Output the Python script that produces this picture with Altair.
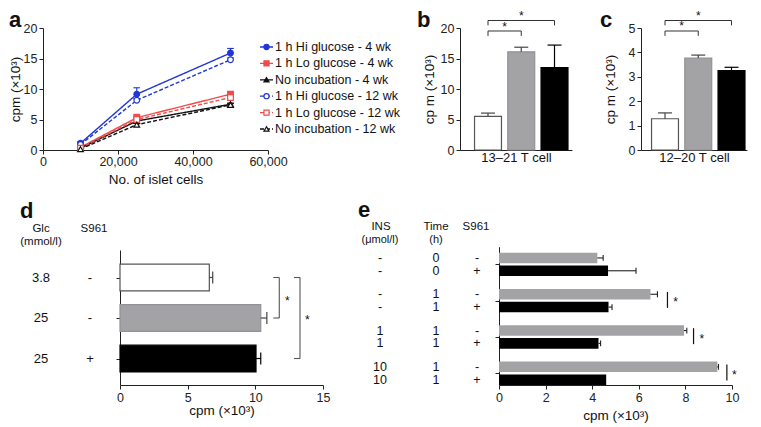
import altair as alt
import pandas as pd

FONT = "Liberation Sans"
W, H = 745, 415
INK = "#111111"

# ---------------- panel a: data ----------------
cells = [10000, 25000, 50000]
series = ["1 h Hi glucose - 4 wk", "1 h Lo glucose - 4 wk", "No incubation - 4 wk",
          "1 h Hi glucose - 12 wk", "1 h Lo glucose - 12 wk", "No incubation - 12 wk"]
hi_4wk = [1.1, 9.15, 15.9]
lo_4wk = [0.45, 5.3, 9.15]
no_4wk = [0.3, 4.75, 7.5]
hi_12wk = [0.9, 8.15, 14.8]
lo_12wk = [0.3, 5.0, 8.6]
no_12wk = [0.15, 4.15, 7.4]
hi_4wk_err = [0.25, 1.05, 0.75]
lo_4wk_err = [0.1, 0.55, 0.35]
no_4wk_err = [0.05, 0.2, 0.2]
hi_12wk_err = [0.1, 0.3, 0.3]
lo_12wk_err = [0.05, 0.3, 0.3]
no_12wk_err = [0.05, 0.2, 0.2]

a_values = [hi_4wk, lo_4wk, no_4wk, hi_12wk, lo_12wk, no_12wk]
a_errors = [hi_4wk_err, lo_4wk_err, no_4wk_err, hi_12wk_err, lo_12wk_err, no_12wk_err]

# ---------------- panels b, c, d: data ----------------
conditions = ["Glc 3.8", "Glc 25", "Glc 25 + S961"]
b_cpm = [5.5, 16.1, 13.5]
b_err = [0.55, 0.75, 3.7]
c_cpm = [1.28, 3.77, 3.25]
c_err = [0.24, 0.12, 0.14]
b_brk_from, b_brk_to = [1, 1], [2, 3]
b_brk_level = [19.51, 21.23]
b_star_y = [19.59, 21.31]
c_brk_level = [4.877, 5.307]
c_star_y = [4.898, 5.328]

d_glc = ["3.8", "25", "25"]
d_s961 = ["-", "-", "+"]
d_cpm = [6.6, 10.4, 10.05]
d_err = [0.25, 0.45, 0.35]
d_brk_from, d_brk_to = [1, 1], [2, 3]
d_brk_x = [11.77, 13.3]
d_star_x = [12.37, 13.84]
d_star_row = [1.67, 2.15]

# ---------------- panel e: data ----------------
e_ins = ["-", "-", "-", "-", "1", "1", "10", "10"]
e_time = ["0", "0", "1", "1", "1", "1", "1", "1"]
e_s961 = ["-", "+", "-", "+", "-", "+", "-", "+"]
e_cpm = [4.22, 4.68, 6.5, 4.7, 7.94, 4.27, 9.37, 4.6]
e_err = [0.25, 1.2, 0.3, 0.15, 0.12, 0.09, 0.05, 0.0]
e_sig_group = [2, 3, 4]
e_sig_x = [7.23, 8.35, 9.78]
e_star_x = [7.58, 8.71, 10.1]

# ---------------- styles ----------------
BLUE, RED, BLACK = "#2236d6", "#f04a4a", "#111111"
GRAY = "#a3a3a6"
ser_color = alt.Scale(domain=series, range=[BLUE, RED, BLACK, BLUE, RED, BLACK])
ser_fill = alt.Scale(domain=series, range=[BLUE, RED, BLACK, "#ffffff", "#ffffff", "#ffffff"])
ser_shape = alt.Scale(domain=series, range=["circle", "square", "triangle-up"] * 2)
ser_dash = alt.Scale(domain=series, range=[[1, 0]] * 3 + [[4, 2]] * 3)
cond_fill = alt.Scale(domain=conditions, range=["#ffffff", GRAY, "#000000"])
cond_stroke = alt.Scale(domain=conditions, range=["#555555", "#929296", "#000000"])
cond_err = alt.Scale(domain=conditions, range=["#444444", "#444444", "#000000"])


def note(txt, x, y, size=11.5, weight="normal", align="center", baseline="middle"):
    return alt.Chart(pd.DataFrame({"t": [txt]})).mark_text(
        font=FONT, fontSize=size, fontWeight=weight, align=align, baseline=baseline, color=INK
    ).encode(x=alt.value(x), y=alt.value(y), text="t:N")


# ---------------- panel a ----------------
df_a = pd.DataFrame([{"series": s, "cells": c, "cpm": v, "err": e}
                     for s, vals, errs in zip(series, a_values, a_errors)
                     for c, v, e in zip(cells, vals, errs)])
xa = alt.Scale(domain=[0, 60000], range=[35, 260], nice=False, zero=False)
ya = alt.Scale(domain=[0, 20], range=[142, 20], nice=False, zero=False)
xa_axis = alt.Axis(orient="bottom", offset=142 - H, values=[0, 20000, 40000, 60000],
                   labelExpr="format(datum.value, ',')",
                   title="No. of islet cells", titlePadding=5, labelPadding=1)
ya_axis = alt.Axis(orient="left", offset=-35, values=[0, 5, 10, 15, 20], title="cpm (×10³)",
                   titlePadding=1)
base_a = alt.Chart(df_a).transform_calculate(
    top="datum.cpm + datum.err", c0="datum.cells - 900", c1="datum.cells + 900")
a_lines = base_a.mark_line(strokeWidth=1.4).encode(
    x=alt.X("cells:Q", scale=xa, axis=xa_axis),
    y=alt.Y("cpm:Q", scale=ya, axis=ya_axis),
    color=alt.Color("series:N", scale=ser_color, legend=None),
    strokeDash=alt.StrokeDash("series:N", scale=ser_dash, legend=None))
a_err = base_a.mark_rule(strokeWidth=1.1).encode(
    x=alt.X("cells:Q", scale=xa, axis=xa_axis), y=alt.Y("cpm:Q", scale=ya, axis=ya_axis), y2="top:Q",
    color=alt.Color("series:N", scale=ser_color, legend=None))
a_cap = base_a.mark_rule(strokeWidth=1.1).encode(
    x=alt.X("c0:Q", scale=xa, axis=xa_axis), x2="c1:Q", y=alt.Y("top:Q", scale=ya, axis=ya_axis),
    color=alt.Color("series:N", scale=ser_color, legend=None))
a_pts = base_a.mark_point(size=32, strokeWidth=1.2, opacity=1).encode(
    x=alt.X("cells:Q", scale=xa, axis=xa_axis), y=alt.Y("cpm:Q", scale=ya, axis=ya_axis),
    shape=alt.Shape("series:N", scale=ser_shape, legend=None),
    fill=alt.Fill("series:N", scale=ser_fill, legend=None),
    stroke=alt.Stroke("series:N", scale=ser_color, legend=None))
panel_a = alt.layer(a_lines, a_err, a_cap, a_pts)

# legend for a
df_leg = pd.DataFrame({"series": series, "idx": list(range(len(series)))})
yleg = alt.Scale(domain=[0, 5], range=[39, 121], nice=False, zero=False)
leg_base = alt.Chart(df_leg)
leg_lines = leg_base.mark_rule(strokeWidth=1.3).encode(
    x=alt.value(252), x2=alt.value(265), y=alt.Y("idx:Q", scale=yleg, axis=None),
    color=alt.Color("series:N", scale=ser_color, legend=None),
    strokeDash=alt.StrokeDash("series:N", scale=ser_dash, legend=None))
leg_pts = leg_base.mark_point(size=26, strokeWidth=1.2, opacity=1).encode(
    x=alt.value(258.5), y=alt.Y("idx:Q", scale=yleg, axis=None),
    shape=alt.Shape("series:N", scale=ser_shape, legend=None),
    fill=alt.Fill("series:N", scale=ser_fill, legend=None),
    stroke=alt.Stroke("series:N", scale=ser_color, legend=None))
leg_txt = leg_base.mark_text(font=FONT, fontSize=12.5, align="left", baseline="middle", color=INK).encode(
    x=alt.value(267), y=alt.Y("idx:Q", scale=yleg, axis=None), text="series:N")
legend_a = alt.layer(leg_lines, leg_pts, leg_txt)


# ---------------- panels b and c ----------------
def column_panel(cpm, err, xs, ys, xaxis, yaxis, levels, drop, star_y):
    df = pd.DataFrame({"cond": conditions, "pos": list(range(1, len(conditions) + 1)),
                       "cpm": cpm, "err": err})
    base = alt.Chart(df).transform_calculate(
        x0="datum.pos - 0.405", x1="datum.pos + 0.405", zero="0",
        top="datum.cpm + datum.err", c0="datum.pos - 0.21", c1="datum.pos + 0.21")
    X = lambda f: alt.X(f, scale=xs, axis=xaxis)
    Y = lambda f: alt.Y(f, scale=ys, axis=yaxis)
    bars = base.mark_rect(strokeWidth=1.2).encode(
        x=X("x0:Q"), x2="x1:Q", y=Y("zero:Q"), y2="cpm:Q",
        fill=alt.Fill("cond:N", scale=cond_fill, legend=None),
        stroke=alt.Stroke("cond:N", scale=cond_stroke, legend=None))
    eb = base.mark_rule(strokeWidth=1.2).encode(
        x=X("pos:Q"), y=Y("cpm:Q"), y2="top:Q",
        color=alt.Color("cond:N", scale=cond_err, legend=None))
    cap = base.mark_rule(strokeWidth=1.2).encode(
        x=X("c0:Q"), x2="c1:Q", y=Y("top:Q"),
        color=alt.Color("cond:N", scale=cond_err, legend=None))
    brk = pd.DataFrame({"i0": b_brk_from, "i1": b_brk_to, "level": levels, "sy": star_y})
    bb = alt.Chart(brk).transform_calculate(
        low=f"datum.level - {drop}", mid="(datum.i0 + datum.i1) / 2")
    h = bb.mark_rule(strokeWidth=1, color="#333333").encode(x=X("i0:Q"), x2="i1:Q", y=Y("level:Q"))
    l1 = bb.mark_rule(strokeWidth=1, color="#333333").encode(x=X("i0:Q"), y=Y("level:Q"), y2="low:Q")
    l2 = bb.mark_rule(strokeWidth=1, color="#333333").encode(x=X("i1:Q"), y=Y("level:Q"), y2="low:Q")
    st = bb.mark_text(font=FONT, fontSize=12, align="center", baseline="alphabetic", color=INK).encode(
        x=X("mid:Q"), y=Y("sy:Q"), text=alt.value("*"))
    return alt.layer(bars, eb, cap, h, l1, l2, st)


xb = alt.Scale(domain=[0.158, 3.526], range=[452, 564], nice=False, zero=False)
yb = alt.Scale(domain=[0, 20], range=[142, 20], nice=False, zero=False)
xb_axis = alt.Axis(orient="bottom", offset=142 - H, labels=False, ticks=False, title="13–21 T cell",
                   titlePadding=1, titleFontSize=13)
yb_axis = alt.Axis(orient="left", offset=-452, values=[0, 5, 10, 15, 20], title="cp m (×10³)",
                   titlePadding=4)
panel_b = column_panel(b_cpm, b_err, xb, yb, xb_axis, yb_axis, b_brk_level, 0.8, b_star_y)

xc = alt.Scale(domain=[0.278, 3.466], range=[633, 739], nice=False, zero=False)
yc = alt.Scale(domain=[0, 5], range=[142, 20], nice=False, zero=False)
xc_axis = alt.Axis(orient="bottom", offset=142 - H, labels=False, ticks=False, title="12–20 T cell",
                   titlePadding=1, titleFontSize=13)
yc_axis = alt.Axis(orient="left", offset=-633, values=[0, 1, 2, 3, 4, 5], title="cp m (×10³)",
                   titlePadding=10.5)
panel_c = column_panel(c_cpm, c_err, xc, yc, xc_axis, yc_axis, c_brk_level, 0.2, c_star_y)

# ---------------- panel d ----------------
df_d = pd.DataFrame({"cond": conditions, "row": list(range(1, 4)), "glc": d_glc, "s961": d_s961,
                     "cpm": d_cpm, "err": d_err})
xd = alt.Scale(domain=[0, 15], range=[112, 315], nice=False, zero=False)
yd = alt.Scale(domain=[0.321, 3.654], range=[242, 377], nice=False, zero=False)
xd_axis = alt.Axis(orient="bottom", offset=377 - H, values=[0, 5, 10, 15], title="cpm (×10³)",
                   titlePadding=0)
yd_axis = alt.Axis(orient="left", offset=-112, values=[1, 2, 3], labels=False, title="")
XD = lambda f: alt.X(f, scale=xd, axis=xd_axis)
YD = lambda f: alt.Y(f, scale=yd, axis=yd_axis)
base_d = alt.Chart(df_d).transform_calculate(
    zero="0", y0="datum.row - 0.33", y1="datum.row + 0.33", right="datum.cpm + datum.err",
    r0="datum.row - 0.15", r1="datum.row + 0.15")
d_bars = base_d.mark_rect(strokeWidth=1.2).encode(
    x=XD("zero:Q"), x2="cpm:Q", y=YD("y0:Q"), y2="y1:Q",
    fill=alt.Fill("cond:N", scale=cond_fill, legend=None),
    stroke=alt.Stroke("cond:N", scale=cond_stroke, legend=None))
d_eb = base_d.mark_rule(strokeWidth=1.2).encode(
    x=XD("cpm:Q"), x2="right:Q", y=YD("row:Q"),
    color=alt.Color("cond:N", scale=cond_err, legend=None))
d_cap = base_d.mark_rule(strokeWidth=1.2).encode(
    x=XD("right:Q"), y=YD("r0:Q"), y2="r1:Q",
    color=alt.Color("cond:N", scale=cond_err, legend=None))
d_lab1 = base_d.mark_text(font=FONT, fontSize=13, align="center", baseline="middle", color=INK).encode(
    x=alt.value(33), y=YD("row:Q"), text="glc:N")
d_lab2 = base_d.mark_text(font=FONT, fontSize=13, align="center", baseline="middle", color=INK).encode(
    x=alt.value(82), y=YD("row:Q"), text="s961:N")
dbrk = pd.DataFrame({"r0": d_brk_from, "r1": d_brk_to, "bx": d_brk_x, "sx": d_star_x, "sr": d_star_row})
db = alt.Chart(dbrk).transform_calculate(arm="datum.bx - 0.44")
d_v = db.mark_rule(strokeWidth=1.1, color="#555555").encode(x=XD("bx:Q"), y=YD("r0:Q"), y2="r1:Q")
d_t1 = db.mark_rule(strokeWidth=1.1, color="#555555").encode(x=XD("arm:Q"), x2="bx:Q", y=YD("r0:Q"))
d_t2 = db.mark_rule(strokeWidth=1.1, color="#555555").encode(x=XD("arm:Q"), x2="bx:Q", y=YD("r1:Q"))
d_st = db.mark_text(font=FONT, fontSize=12, align="center", baseline="alphabetic", color=INK).encode(
    x=XD("sx:Q"), y=YD("sr:Q"), text=alt.value("*"))
panel_d = alt.layer(d_bars, d_eb, d_cap, d_lab1, d_lab2, d_v, d_t1, d_t2, d_st)

# ---------------- panel e ----------------
df_e = pd.DataFrame({"ins": e_ins, "time": e_time, "s961": e_s961, "cpm": e_cpm, "err": e_err,
                     "group": [i // 2 + 1 for i in range(len(e_cpm))]})
xe = alt.Scale(domain=[0, 10], range=[491, 724], nice=False, zero=False)
ye = alt.Scale(domain=[0.515, 4.325], range=[238.7, 377], nice=False, zero=False)
xe_axis = alt.Axis(orient="bottom", offset=377 - H, values=[0, 2, 4, 6, 8, 10], title="cpm (×10³)",
                   titlePadding=5)
ye_axis = alt.Axis(orient="left", offset=-491, values=[1, 2, 3, 4], labels=False, title="")
XE = lambda f: alt.X(f, scale=xe, axis=xe_axis)
YE = lambda f: alt.Y(f, scale=ye, axis=ye_axis)
e_fill = alt.Scale(domain=["-", "+"], range=[GRAY, "#000000"])
base_e = alt.Chart(df_e).transform_calculate(
    yc="datum.group + (datum.s961 == '+' ? 0.178 : -0.175)").transform_calculate(
    zero="0", y0="datum.yc - 0.145", y1="datum.yc + 0.145", right="datum.cpm + datum.err",
    r0="datum.yc - 0.08", r1="datum.yc + 0.08")
e_bars = base_e.mark_rect().encode(
    x=XE("zero:Q"), x2="cpm:Q", y=YE("y0:Q"), y2="y1:Q",
    fill=alt.Fill("s961:N", scale=e_fill, legend=None))
e_eb = base_e.transform_filter("datum.err > 0").mark_rule(strokeWidth=1.1, color="#222222").encode(
    x=XE("cpm:Q"), x2="right:Q", y=YE("yc:Q"))
e_cap = base_e.transform_filter("datum.err > 0").mark_rule(strokeWidth=1.1, color="#222222").encode(
    x=XE("right:Q"), y=YE("r0:Q"), y2="r1:Q")
e_labs = []
for field, xpix in [("ins", 372), ("time", 428), ("s961", 469)]:
    e_labs.append(base_e.mark_text(font=FONT, fontSize=12.5, align="center", baseline="middle",
                                   color=INK).encode(x=alt.value(xpix), y=YE("yc:Q"), text=f"{field}:N"))
esig = pd.DataFrame({"group": e_sig_group, "lx": e_sig_x, "sx": e_star_x})
es = alt.Chart(esig).transform_calculate(
    g0="datum.group - 0.24", g1="datum.group + 0.2", gs="datum.group + 0.16")
e_v = es.mark_rule(strokeWidth=1.2, color=INK).encode(x=XE("lx:Q"), y=YE("g0:Q"), y2="g1:Q")
e_st = es.mark_text(font=FONT, fontSize=12, align="center", baseline="alphabetic", color=INK).encode(
    x=XE("sx:Q"), y=YE("gs:Q"), text=alt.value("*"))
panel_e = alt.layer(e_bars, e_eb, e_cap, *e_labs, e_v, e_st)

# ---------------- annotations ----------------
notes = [
    note("a", 1, 19, size=22, weight="bold", align="left", baseline="alphabetic"),
    note("b", 409, 19, size=22, weight="bold", align="left", baseline="alphabetic"),
    note("c", 592, 19, size=22, weight="bold", align="left", baseline="alphabetic"),
    note("d", 12, 210, size=22, weight="bold", align="left", baseline="alphabetic"),
    note("e", 350, 209, size=22, weight="bold", align="left", baseline="alphabetic"),
    note("Glc", 33, 221), note("(mmol/l)", 33, 234), note("S961", 86, 221),
    note("INS", 373, 219), note("(μmol/l)", 372, 232, size=11),
    note("Time", 428, 219), note("(h)", 428, 232, size=11), note("S961", 468, 219),
]

chart = alt.layer(panel_a, legend_a, panel_b, panel_c, panel_d, panel_e, *notes).resolve_scale(
    x="independent", y="independent", color="independent", fill="independent",
    stroke="independent", shape="independent", strokeDash="independent"
).resolve_axis(x="independent", y="independent").properties(
    width=W, height=H, padding=0, autosize=alt.AutoSizeParams(type="none")
).configure_axis(
    grid=False, domainColor="#222222", tickColor="#222222", labelColor="#222222",
    titleColor=INK, labelFont=FONT, titleFont=FONT, labelFontSize=12.5, titleFontSize=13.5,
    titleFontWeight="normal", tickSize=4, labelPadding=2, labelFlush=False, labelOverlap=False,
    domainWidth=1, tickWidth=1
).configure_view(stroke="transparent").configure_text(font=FONT)

chart.save("out.html", embed_options={"renderer": "svg", "actions": False})
